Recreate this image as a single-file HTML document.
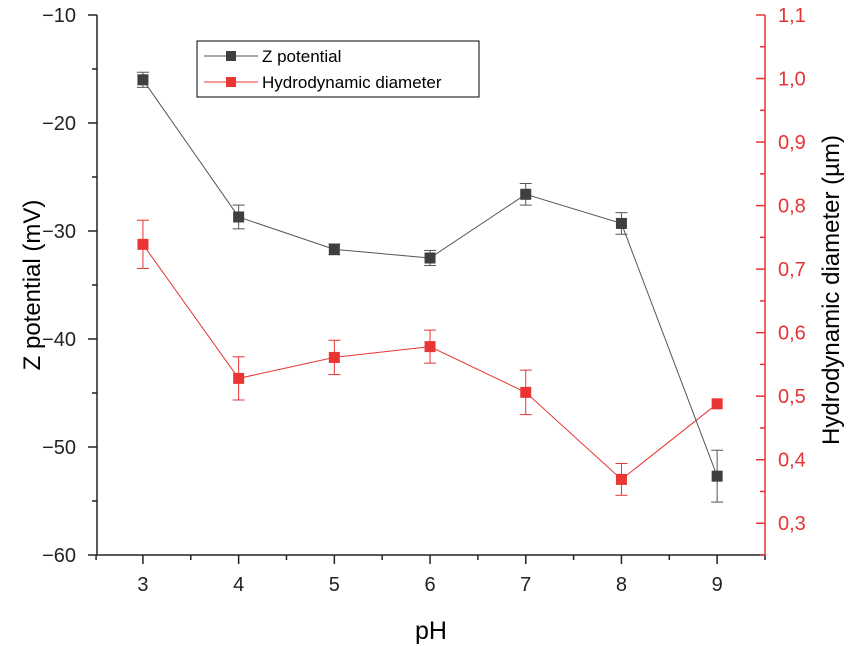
<!DOCTYPE html>
<html><head><meta charset="utf-8"><style>
body{margin:0;background:#fff;}
svg{display:block;font-family:"Liberation Sans",Arial,sans-serif;}
</style></head><body>
<svg id="chart" width="851" height="646" viewBox="0 0 851 646">
<g id="axes"></g>
<g id="series"></g>
<g>
<rect x="197" y="41" width="282" height="56" fill="#fff" stroke="#000" stroke-width="1"/>
<g>
<line x1="204" y1="56" x2="258" y2="56" stroke="#555" stroke-width="1"/>
<rect x="226" y="51" width="10" height="10" fill="#3f3f3f"/>
<text x="262" y="62" font-size="17" fill="#000">Z potential</text></g>
<g>
<line x1="204" y1="82" x2="258" y2="82" stroke="#e53434" stroke-width="1"/>
<rect x="226" y="77" width="10" height="10" fill="#ea3535"/>
<text x="262" y="88" font-size="17" fill="#000">Hydrodynamic diameter</text></g>
</g>
</svg>
<script>
const phValues=[3,4,5,6,7,8,9];
const zPotential=[-16.0,-28.7,-31.7,-32.5,-26.6,-29.3,-52.7];
const zError=[0.7,1.1,0.5,0.7,1.0,1.0,2.4];
const hydroDiameter=[0.739,0.528,0.561,0.578,0.506,0.369,0.488];
const hydroError=[0.038,0.034,0.027,0.026,0.035,0.025,0];
const xTicks=[3,4,5,6,7,8,9];
const yLeftTicks=[-60,-50,-40,-30,-20,-10];
const yRightTicks=[0.3,0.4,0.5,0.6,0.7,0.8,0.9,1.0,1.1];

const L=97,R=765,T=15,B=555;
const xS=v=>L+(v-2.52)/(9.5-2.52)*(R-L);
const yL=v=>B-(v+60)/50*(B-T);
const yR=v=>B-(v-0.25)/0.85*(B-T);
const NS="http://www.w3.org/2000/svg";
function mk(parent,tag,attrs){const e=document.createElementNS(NS,tag);for(const k in attrs)e.setAttribute(k,attrs[k]);parent.appendChild(e);return e;}
const ax=document.getElementById('axes');
let e;
e=mk(ax,'line',{x1:L,y1:T,x2:L,y2:B,stroke:'#222','stroke-width':1.5});


e=mk(ax,'line',{x1:L,y1:B,x2:R,y2:B,stroke:'#222','stroke-width':1.5});


e=mk(ax,'line',{x1:R,y1:T,x2:R,y2:B,stroke:'#e53434','stroke-width':1.5});


xTicks.forEach(v=>{const x=xS(v);
mk(ax,'line',{x1:x,y1:B,x2:x,y2:B+9,stroke:'#222','stroke-width':1.5});
const t=mk(ax,'text',{x:x,y:B+36,'font-size':20,'text-anchor':'middle',fill:'#222'});t.textContent=v;


mk(ax,'line',{x1:x+xS(3.5)-xS(3),y1:B,x2:x+xS(3.5)-xS(3),y2:B+5,stroke:'#222','stroke-width':1.5});});
mk(ax,'line',{x1:xS(2.5)+1,y1:B,x2:xS(2.5)+1,y2:B+5,stroke:'#222','stroke-width':1.5});
yLeftTicks.forEach(v=>{const y=yL(v);
mk(ax,'line',{x1:L-9,y1:y,x2:L,y2:y,stroke:'#222','stroke-width':1.5});
if(v<-10)mk(ax,'line',{x1:L-5,y1:yL(v+5),x2:L,y2:yL(v+5),stroke:'#222','stroke-width':1.5});
const t=mk(ax,'text',{x:L-21,y:y+7,'font-size':20,'text-anchor':'end',fill:'#222'});t.textContent='\u2212'+Math.abs(v);

});
yRightTicks.forEach(v=>{const y=yR(v);
mk(ax,'line',{x1:R-9,y1:y,x2:R,y2:y,stroke:'#e53434','stroke-width':1.5});
mk(ax,'line',{x1:R-5,y1:yR(v-0.05),x2:R,y2:yR(v-0.05),stroke:'#e53434','stroke-width':1.5});
const t=mk(ax,'text',{x:R+13,y:y+7,'font-size':20,fill:'#e53434'});t.textContent=v.toFixed(1).replace('.',',');

});
let t=mk(ax,'text',{x:431,y:639,'font-size':25,'text-anchor':'middle',fill:'#000'});t.textContent='pH';


t=mk(ax,'text',{x:0,y:0,'font-size':24,'text-anchor':'middle',fill:'#000',transform:'translate(40,285) rotate(-90)'});t.textContent='Z potential (mV)';


t=mk(ax,'text',{x:0,y:0,'font-size':24,'text-anchor':'middle',fill:'#000',transform:'translate(839,290) rotate(-90)'});t.textContent='Hydrodynamic diameter (\u00b5m)';



const sg=document.getElementById('series');
function series(vals,errs,ys,line,fill,name){
const pts=vals.map((v,i)=>xS(phValues[i])+','+ys(v)).join(' ');
const pl=mk(sg,'polyline',{points:pts,fill:'none',stroke:line,'stroke-width':1});


vals.forEach((v,i)=>{const x=xS(phValues[i]);
if(errs[i]>0){const y1=ys(v+errs[i]),y2=ys(v-errs[i]);
mk(sg,'line',{x1:x,y1:y1,x2:x,y2:y2,stroke:line,'stroke-width':1});
mk(sg,'line',{x1:x-6,y1:y1,x2:x+6,y2:y1,stroke:line,'stroke-width':1});
mk(sg,'line',{x1:x-6,y1:y2,x2:x+6,y2:y2,stroke:line,'stroke-width':1});}
const r=mk(sg,'rect',{x:x-5.5,y:ys(v)-5.5,width:11,height:11,fill:fill});

});}
series(hydroDiameter,hydroError,yR,'#e53434','#ea3535','hydro');
series(zPotential,zError,yL,'#555','#3f3f3f','zpot');
</script>
</body></html>
